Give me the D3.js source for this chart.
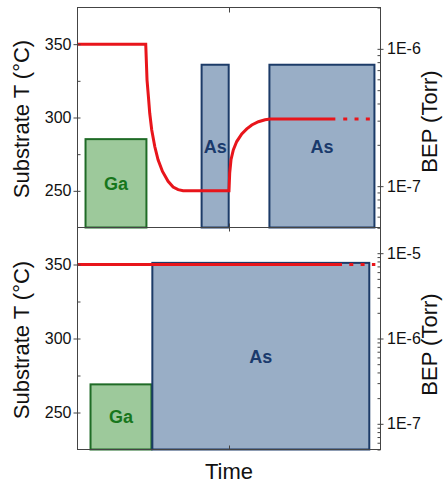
<!DOCTYPE html>
<html>
<head>
<meta charset="utf-8">
<script src="https://cdn.jsdelivr.net/npm/d3@7"></script>
<style>
  body { margin: 0; background: #fff; }
  text { font-family: "Liberation Sans", Arial, sans-serif; }
</style>
</head>
<body>
<svg id="chart" width="443" height="484"></svg>
<script>
// Time axis: arbitrary units, just one unlabeled tick in the middle
const timeDomain = [0, 10];
const timeTicks = [5];

// Left axis: substrate temperature (°C)
const tempDomain = [225, 375];
const tempTicks = [250, 300, 350];
const tempMinorTicks = [275, 325];

// Right axis: BEP (Torr), log scale
const bepDomainTop = [5e-8, 2e-6];
const bepDomainBottom = [5e-8, 2e-5];

// Top panel - temperature profile
const topTempTime  = [0, 2.252, 2.275, 2.295, 2.341, 2.384, 2.45, 2.55, 2.659, 2.805, 2.99, 3.156, 3.321, 3.487,
                      5.0, 5.023, 5.066, 5.142, 5.255, 5.421, 5.586, 5.752, 5.97, 6.192, 6.358, 8.51];
const topTempValue = [350, 350, 336.8, 325.5, 314.1, 302.9, 291.5, 280.2, 271.2, 263.2, 256.5, 252.6, 250.8, 250.1,
                      250, 262.1, 271.2, 277.9, 283.6, 288.8, 292.2, 294.9, 297.1, 298.5, 299, 299];
const topDotTime  = [8.77, 9.74];
const topDotValue = [299, 299];

// Top panel - shutter boxes
const topBoxLabel = ['Ga', 'As', 'As'];
const topBoxStart = [0.265, 4.096, 6.334];
const topBoxEnd   = [2.275, 4.99, 9.8];
const topBoxBEP   = [2.2e-7, 7.66e-7, 7.66e-7];

// Bottom panel - temperature profile
const bottomTempTime  = [0, 8.73];
const bottomTempValue = [350, 350];
const bottomDotTime  = [8.97, 9.83];
const bottomDotValue = [350, 350];

// Bottom panel - shutter boxes
const bottomBoxLabel = ['Ga', 'As'];
const bottomBoxStart = [0.43, 2.47];
const bottomBoxEnd   = [2.44, 9.63];
const bottomBoxBEP   = [2.9e-7, 7.7e-6];

const colors = {
    Ga: { fill: '#9dc99b', stroke: '#1f6b26', text: '#17761c' },
    As: { fill: '#99aec6', stroke: '#1c3b68', text: '#1a3a6c' }
};
const red = '#e8151b';

const svg = d3.select('#chart');
const left = 77.5, right = 380.5;

const x = d3.scaleLinear().domain(timeDomain).range([left, right]);

function drawPanel(cfg) {
    const g = svg.append('g');
    const y = d3.scaleLinear().domain(tempDomain).range([cfg.bottom, cfg.top]);
    const bep = d3.scaleLog().domain(cfg.bepDomain).range([cfg.bottom, cfg.top]);

    // shutter boxes
    const boxes = cfg.labels.map((l, i) => ({ label: l, start: cfg.starts[i], end: cfg.ends[i], bep: cfg.beps[i] }));

    g.selectAll('.box')
        .data(boxes)
        .enter()
        .append('rect')
        .attr('class', 'box')
        .attr('x', d => x(d.start))
        .attr('y', d => bep(d.bep))
        .attr('width', d => x(d.end) - x(d.start))
        .attr('height', d => cfg.bottom - bep(d.bep))
        .style('fill', d => colors[d.label].fill)
        .style('stroke', d => colors[d.label].stroke)
        .style('stroke-width', 2);

    g.selectAll('.box-label')
        .data(boxes)
        .enter()
        .append('text')
        .attr('class', 'box-label')
        .attr('x', d => (x(d.start) + x(d.end)) / 2)
        .attr('y', d => (bep(d.bep) + cfg.bottom) / 2)
        .attr('dy', '0.36em')
        .style('text-anchor', 'middle')
        .style('font-weight', 'bold')
        .style('font-size', '18px')
        .style('fill', d => colors[d.label].text)
        .text(d => d.label);

    // temperature line
    const line = d3.line().x(d => x(d[0])).y(d => y(d[1]));

    g.append('path')
        .datum(cfg.tTime.map((t, i) => [t, cfg.tValue[i]]))
        .attr('d', line)
        .style('fill', 'none')
        .style('stroke', red)
        .style('stroke-width', 3);

    g.append('path')
        .datum(cfg.dTime.map((t, i) => [t, cfg.dValue[i]]))
        .attr('d', line)
        .style('fill', 'none')
        .style('stroke', red)
        .style('stroke-width', 3)
        .style('stroke-dasharray', '4,7.3');

    // frame
    g.append('rect')
        .attr('x', left)
        .attr('y', cfg.top)
        .attr('width', right - left)
        .attr('height', cfg.bottom - cfg.top)
        .style('fill', 'none')
        .style('stroke', '#444')
        .style('stroke-width', 1);

    // left axis: labels + outward part of major ticks
    g.append('g')
        .attr('transform', `translate(${left},0)`)
        .call(d3.axisLeft(y).tickValues(tempTicks).tickSizeInner(4).tickSizeOuter(0).tickPadding(2));
    // inward part of major + minor ticks
    g.append('g')
        .attr('transform', `translate(${left},0)`)
        .call(d3.axisLeft(y).tickValues(tempTicks.concat(tempMinorTicks)).tickSizeInner(-3).tickSizeOuter(0).tickFormat(''));

    // right axis (log)
    const majors = bep.ticks().filter(d => Math.abs(Math.log10(d) - Math.round(Math.log10(d))) < 1e-9);
    const minors = bep.ticks().filter(d => majors.indexOf(d) < 0);
    g.append('g')
        .attr('transform', `translate(${right},0)`)
        .call(d3.axisRight(bep).tickValues(majors).tickSizeInner(3).tickSizeOuter(0).tickPadding(3.5)
            .tickFormat(d => '1E' + Math.round(Math.log10(d))));
    g.append('g')
        .attr('transform', `translate(${right},0)`)
        .call(d3.axisRight(bep).tickValues(majors.concat(minors)).tickSizeInner(-3).tickSizeOuter(0).tickFormat(''));

    // time ticks on top and bottom edges (pointing inward)
    g.append('g')
        .attr('transform', `translate(0,${cfg.top})`)
        .call(d3.axisTop(x).tickValues(timeTicks).tickSizeInner(-cfg.topTick).tickSizeOuter(0).tickFormat(''));
    g.append('g')
        .attr('transform', `translate(0,${cfg.bottom})`)
        .call(d3.axisBottom(x).tickValues(timeTicks).tickSizeInner(-4).tickSizeOuter(0).tickFormat(''));

    g.selectAll('.domain').remove();
    g.selectAll('.tick line').style('stroke', '#444');
    g.selectAll('.tick text')
        .style('font-family', '"Liberation Sans", Arial, sans-serif')
        .style('font-size', '16px')
        .style('fill', '#111');

    // axis titles
    const mid = (cfg.top + cfg.bottom) / 2;
    g.append('text')
        .attr('transform', `translate(29,${mid + 1.5}) rotate(-90)`)
        .style('text-anchor', 'middle')
        .style('font-size', '22px')
        .style('fill', '#111')
        .text('Substrate T (°C)');

    g.append('text')
        .attr('transform', `translate(437,${mid + cfg.bepShift}) rotate(-90)`)
        .style('text-anchor', 'middle')
        .style('font-size', '22px')
        .style('fill', '#111')
        .text('BEP (Torr)');
}

drawPanel({
    top: 7.5, bottom: 227.5, topTick: 5, bepShift: 4,
    bepDomain: bepDomainTop,
    labels: topBoxLabel, starts: topBoxStart, ends: topBoxEnd, beps: topBoxBEP,
    tTime: topTempTime, tValue: topTempValue, dTime: topDotTime, dValue: topDotValue
});

drawPanel({
    top: 227.5, bottom: 449.5, topTick: 4, bepShift: 6,
    bepDomain: bepDomainBottom,
    labels: bottomBoxLabel, starts: bottomBoxStart, ends: bottomBoxEnd, beps: bottomBoxBEP,
    tTime: bottomTempTime, tValue: bottomTempValue, dTime: bottomDotTime, dValue: bottomDotValue
});

// shared x-axis title
svg.append('text')
    .attr('x', x(timeTicks[0]))
    .attr('y', 479)
    .style('text-anchor', 'middle')
    .style('font-size', '22px')
    .style('fill', '#111')
    .text('Time');
</script>
</body>
</html>
